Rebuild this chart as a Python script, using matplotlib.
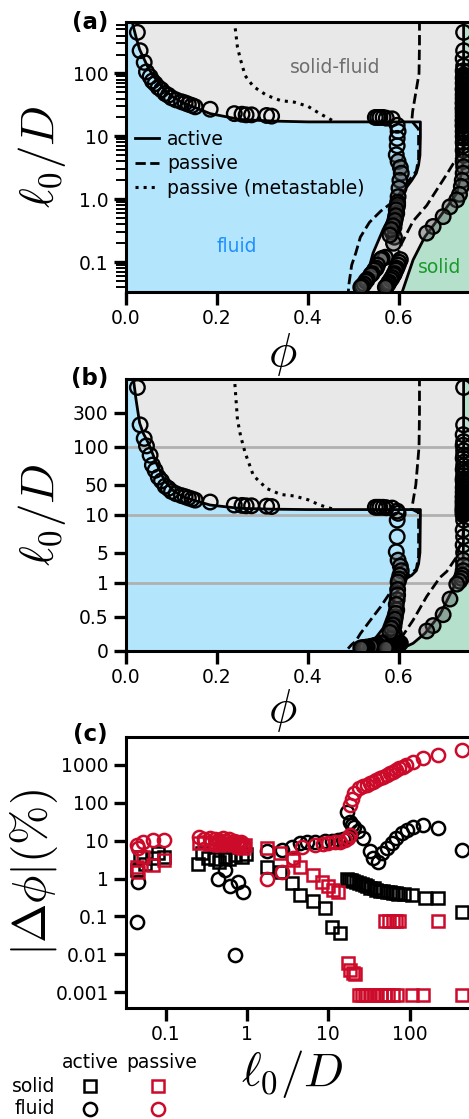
import numpy as np
import matplotlib
matplotlib.use("Agg")
import matplotlib.pyplot as plt
from matplotlib.lines import Line2D
from matplotlib.ticker import FixedLocator, FixedFormatter, LogLocator, NullLocator

plt.rcParams['font.family'] = ['DejaVu Sans']
plt.rcParams['mathtext.fontset'] = 'cm'

# ---------------- data: phase diagram (panels a, b) ----------------
# active fluid boundary (solid line, left)
act_fluid_phi = [0.013, 0.016, 0.022, 0.030, 0.038, 0.050, 0.067, 0.085, 0.104, 0.125, 0.148,
                 0.185, 0.250, 0.324, 0.400, 0.647, 0.647, 0.646, 0.643, 0.638, 0.628, 0.612,
                 0.595, 0.565, 0.543, 0.529, 0.521]
act_fluid_l = [700, 560, 380, 240, 180, 118, 78, 55, 42, 34, 29.5,
               23, 18.6, 17.5, 17.0, 17.0, 10, 5, 3.5, 2.6, 2.0, 1.4,
               0.86, 0.33, 0.14, 0.059, 0.032]
# active solid boundary (solid line, right)
act_solid_phi = [0.742, 0.742, 0.741, 0.739, 0.727, 0.690, 0.657, 0.631, 0.606]
act_solid_l = [700, 8, 4, 3.0, 1.24, 0.53, 0.255, 0.109, 0.032]
# passive fluid boundary (dashed, left)
pas_fluid_phi = [0.645, 0.645, 0.644, 0.637, 0.630, 0.628, 0.643, 0.643, 0.643, 0.638,
                 0.617, 0.590, 0.560, 0.535, 0.515, 0.505, 0.496, 0.490, 0.488]
pas_fluid_l = [700, 300, 100, 50, 25, 17.5, 13, 8, 4.5, 2.8,
               1.8, 0.95, 0.65, 0.43, 0.25, 0.14, 0.09, 0.045, 0.03]
# passive solid boundary (dashed, right)
pas_solid_phi = [0.745, 0.740, 0.724, 0.705, 0.690, 0.661, 0.631, 0.606, 0.590, 0.580, 0.576]
pas_solid_l = [10, 7, 4.2, 2.5, 1.7, 0.8, 0.45, 0.2, 0.09, 0.05, 0.03]
# passive metastable (dotted)
meta_phi = [0.238, 0.245, 0.252, 0.262, 0.280, 0.309, 0.340, 0.370, 0.400, 0.426, 0.450, 0.460]
meta_l = [700, 260, 163, 92, 62, 45, 37, 35, 30, 23, 18.5, 17]

# simulation points: fluid side
sim_f_phi = [0.025, 0.031, 0.040, 0.045, 0.053, 0.058, 0.064, 0.071, 0.078, 0.086, 0.093,
             0.100, 0.110, 0.122, 0.130, 0.137, 0.145, 0.152, 0.185, 0.238, 0.255, 0.264,
             0.276, 0.309, 0.320,
             0.548, 0.553, 0.558, 0.565, 0.572, 0.585,
             0.596, 0.598, 0.596, 0.596, 0.594, 0.598, 0.603, 0.605, 0.602, 0.600, 0.598,
             0.597, 0.596, 0.595, 0.592, 0.590, 0.589, 0.585, 0.590, 0.588, 0.570,
             0.597, 0.594, 0.593, 0.591, 0.587, 0.583, 0.580,
             0.563, 0.560, 0.553, 0.550, 0.546, 0.541, 0.538, 0.530, 0.527, 0.523, 0.519, 0.516]
sim_f_l = [450, 230, 150, 106, 89, 76, 69, 60, 55, 48, 45,
           41, 38, 35.5, 34, 32.5, 31, 29.5, 27, 23, 22.5, 22,
           22, 21.5, 21,
           20, 20, 20, 20, 19.5, 19,
           15, 12, 9.3, 7.1, 5.1, 4.0, 3.2, 2.6, 2.0, 1.5, 1.1,
           0.9, 0.75, 0.6, 0.5, 0.42, 0.36, 0.3, 0.25, 0.2, 0.12,
           0.82, 0.68, 0.55, 0.46, 0.38, 0.33, 0.27,
           0.115, 0.11, 0.09, 0.08, 0.075, 0.066, 0.063, 0.053, 0.05, 0.045, 0.042, 0.04]
# simulation points: solid side
sim_s_phi = [0.742, 0.742, 0.741, 0.742, 0.741, 0.742, 0.743, 0.741, 0.742, 0.741, 0.742,
             0.743, 0.741, 0.742, 0.741, 0.742, 0.741, 0.742, 0.743, 0.741, 0.742, 0.741,
             0.742, 0.741, 0.742, 0.741, 0.742, 0.741, 0.742, 0.741, 0.742, 0.741, 0.742,
             0.741, 0.742, 0.741, 0.739, 0.737, 0.733, 0.727, 0.712, 0.697, 0.675, 0.661,
             0.742, 0.741, 0.742, 0.743, 0.741, 0.742, 0.741, 0.742, 0.743, 0.741, 0.742,
             0.741, 0.742, 0.741, 0.742, 0.743, 0.741, 0.742, 0.741,
             0.603, 0.600, 0.598, 0.595, 0.593, 0.590, 0.588, 0.585, 0.582, 0.578, 0.576,
             0.573, 0.570]
sim_s_l = [450, 230, 172, 131, 110, 89, 80, 70, 62, 55, 49,
           44, 40, 36, 33, 30, 27, 25, 23, 21, 19, 17.5,
           16, 14.5, 13, 12, 11, 10, 9.3, 8, 7.1, 6, 5,
           4.0, 3.3, 2.6, 2.0, 1.6, 1.2, 0.98, 0.76, 0.53, 0.37, 0.29,
           95, 85, 75, 66, 58, 52, 46, 41, 38, 34.5, 31.5,
           28.5, 26, 24, 22, 20, 18.2, 16.8, 15.2,
           0.11, 0.1, 0.09, 0.08, 0.075, 0.066, 0.063, 0.057, 0.053, 0.048, 0.045,
           0.042, 0.04]

# ---------------- data: panel (c) ----------------
act_solid_x = [0.044, 0.048, 0.056, 0.070, 0.080, 0.094,
               0.25, 0.28, 0.33, 0.40, 0.45, 0.53, 0.60, 0.72, 0.88, 0.97,
               1.75, 2.55, 3.55, 4.5, 6.5, 9.1, 11, 13.9,
               16.8, 18, 19, 20, 22, 24, 26, 28, 30, 33, 36, 39, 43, 47, 52,
               57, 62, 68, 73, 85, 106, 155, 225, 437]
act_solid_y = [1.7, 3.8, 2.5, 3.45, 4.7, 3.8,
               2.5, 4.7, 3.5, 3.3, 2.8, 3.8, 3.2, 4.2, 3.8, 4.5,
               2.07, 1.53, 0.76, 0.37, 0.25, 0.166, 0.054, 0.036,
               0.95, 0.92, 0.9, 0.85, 0.8, 0.75, 0.7, 0.66, 0.62, 0.58, 0.55, 0.5,
               0.48, 0.46, 0.45, 0.43, 0.41, 0.41, 0.40, 0.38, 0.37, 0.3, 0.3, 0.135]
act_fluid_x = [0.045, 0.046, 0.44, 0.54, 0.62, 0.72, 0.78, 0.90,
               1.75, 2.67, 3.55, 4.5, 5.5, 6.9, 9.0, 11, 13, 15, 17,
               16.8, 18.5, 19.5, 21, 23, 27, 32.6, 35.5, 41, 45.5, 52, 60, 69, 80, 92,
               111, 148, 225, 437]
act_fluid_y = [0.073, 0.83, 1.0, 1.7, 0.62, 0.0098, 0.83, 0.45,
               5.2, 5.7, 7.0, 8.6, 9.2, 9.5, 9.8, 10, 10.5, 11, 12,
               58, 32, 26, 23, 18, 11.6, 5.2, 3.45, 2.8, 4.7, 6.3, 8.6, 11.6, 15.8, 19,
               23.5, 26, 21.3, 5.7]
pas_solid_x = [0.044, 0.046, 0.053, 0.070, 0.094,
               0.26, 0.30, 0.35, 0.40, 0.45, 0.50, 0.60, 0.70, 0.80, 0.90, 0.95,
               1.75, 2.55, 3.7, 4.5, 6.5, 8.3, 10, 11.5, 13.2,
               17.5, 18.5, 20, 21.5,
               50, 56, 62, 68, 75, 225,
               24, 26, 28, 30, 33, 36, 40, 45, 50, 55, 62, 70, 106, 148, 437]
pas_solid_y = [2.07, 1.53, 3.8, 2.3, 3.1,
               8.5, 9.0, 8.0, 9.0, 7.5, 8.5, 8.0, 7.5, 7.0, 6.5, 7.5,
               6.3, 4.7, 3.1, 2.07, 1.25, 0.83, 0.62, 0.5, 0.45,
               0.0059, 0.0039, 0.0032, 0.003,
               0.075, 0.075, 0.075, 0.075, 0.075, 0.075,
               0.00085, 0.00085, 0.00085, 0.00085, 0.00085, 0.00085, 0.00085, 0.00085,
               0.00085, 0.00085, 0.00085, 0.00085, 0.00085, 0.00085, 0.00085]
pas_fluid_x = [0.044, 0.046, 0.053, 0.070, 0.094,
               0.26, 0.30, 0.35, 0.40, 0.45, 0.50, 0.55, 0.60, 0.65, 0.70, 0.75, 0.80, 0.85, 0.90,
               1.75, 2.67, 3.7, 4.7, 6.9, 8.7, 10, 12, 14, 16, 17.5, 18.5,
               18.5, 19.3, 21, 24, 27, 30, 33, 35.5, 39, 43, 47, 52, 57, 63, 69, 75, 83, 91,
               110, 148, 225, 437]
pas_fluid_y = [7.7, 6.3, 9.5, 10.5, 10.5,
               12.8, 11, 12, 11, 10.5, 11.5, 10, 11, 9.5, 10, 9, 8.5, 9.5, 8,
               1.0, 1.53, 3.45, 7.0, 7.5, 8.3, 8.6, 9.0, 9.5, 10.5, 12, 14,
               88, 130, 178, 240, 270, 300, 330, 360, 400, 445, 490, 540, 600, 660, 740,
               820, 910, 1000, 1200, 1500, 1800, 2500]

# ---------------- layout ----------------
W, H = 469, 1119
fig = plt.figure(figsize=(W / 100, H / 100), dpi=100)


def rect(l, t, b, r):
    return [l / W, 1 - b / H, (r - l) / W, (b - t) / H]


ax_a = fig.add_axes(rect(126, 21.7, 291.7, 490))
ax_b = fig.add_axes(rect(126, 379, 650.7, 490))
ax_c = fig.add_axes(rect(126, 737.3, 1007.7, 490))

BLUE = '#b3e5fc'
GRAY = '#e8e8e8'
GREEN = '#b4e0cc'
RED = '#cc0a2a'
TICK_FS = 13.5
LAB_FS = 34


def style_axes(ax):
    for s in ax.spines.values():
        s.set_linewidth(2.2)
    ax.tick_params(which='major', length=9, width=2.4, labelsize=TICK_FS, pad=3.5, direction='out')
    ax.tick_params(which='minor', length=7, width=1.4, direction='out')


def draw_phase(ax):
    ax.set_facecolor(GRAY)
    top, bot = 5000, 1e-4
    fx = [0] + act_fluid_phi + [act_fluid_phi[-1], 0]
    fy = [top] + act_fluid_l + [bot, bot]
    ax.fill(fx, fy, color=BLUE, lw=0, zorder=1)
    sx = act_solid_phi + [act_solid_phi[-1], 1.0, 1.0]
    sy = act_solid_l + [bot, bot, top]
    ax.fill(sx, sy, color=GREEN, lw=0, zorder=1)
    ax.plot(act_fluid_phi, act_fluid_l, 'k-', lw=2.0, zorder=4)
    ax.plot(act_solid_phi, act_solid_l, 'k-', lw=2.0, zorder=4)
    ax.plot(pas_fluid_phi, pas_fluid_l, 'k--', lw=2.0, zorder=4)
    ax.plot(pas_solid_phi, pas_solid_l, 'k--', lw=2.0, zorder=4)
    ax.plot(meta_phi, meta_l, 'k:', lw=2.2, zorder=4)
    for ph, ll in ((sim_f_phi, sim_f_l), (sim_s_phi, sim_s_l)):
        fc = [(0.3, 0.3, 0.3, 0.4) if v < 4.5 else (0, 0, 0, 0) for v in ll]
        ax.scatter(ph, ll, s=110, facecolors=fc, edgecolors='k', linewidths=1.7, zorder=5)
    ax.set_xlim(0, 0.8)
    ax.set_xticks([0.0, 0.2, 0.4, 0.6])
    ax.set_xticklabels(['0.0', '0.2', '0.4', '0.6'])
    style_axes(ax)


# ---------- panel (a) ----------
draw_phase(ax_a)
ax_a.set_yscale('log')
ax_a.set_ylim(0.034, 665)
ax_a.yaxis.set_major_locator(FixedLocator([0.1, 1, 10, 100]))
ax_a.yaxis.set_major_formatter(FixedFormatter(['0.1', '1.0', '10', '100']))
ax_a.yaxis.set_minor_locator(LogLocator(base=10, subs=np.arange(2, 10)))
ax_a.text(0.46, 126, 'solid-fluid', color='#6e6e6e', fontsize=TICK_FS, ha='center', va='center', zorder=6)
ax_a.text(0.244, 0.175, 'fluid', color='#1e8fff', fontsize=TICK_FS, ha='center', va='center', zorder=6)
ax_a.text(0.69, 0.081, 'solid', color='#1a9a2a', fontsize=TICK_FS, ha='center', va='center', zorder=6)
handles = [Line2D([], [], color='k', ls='-', lw=2.0),
           Line2D([], [], color='k', ls='--', lw=2.0),
           Line2D([], [], color='k', ls=':', lw=2.2)]
ax_a.legend(handles, ['active', 'passive', 'passive (metastable)'], loc='upper left',
            bbox_to_anchor=(0.025, 0.60), frameon=False, fontsize=TICK_FS,
            handlelength=1.3, handletextpad=0.4, labelspacing=0.3, borderpad=0, borderaxespad=0)
ax_a.set_ylabel(r'$\ell_0/D$', fontsize=LAB_FS)
ax_a.yaxis.set_label_coords(-0.159, 0.5)
ax_a.set_xlabel(r'$\phi$', fontsize=LAB_FS)
ax_a.xaxis.set_label_coords(0.431, -0.145)
fig.text(90 / W, 1 - 22 / H, '(a)', fontsize=16.5, fontweight='bold', ha='center', va='center')

# ---------- panel (b) ----------
seg_in = [0, 1, 10, 100, 500, 5000]
seg_out = [0, 1, 2, 3, 4, 5]


def fwd(y):
    return np.interp(y, seg_in, seg_out)


def inv(y):
    return np.interp(y, seg_out, seg_in)


draw_phase(ax_b)
ax_b.set_yscale('function', functions=(fwd, inv))
ax_b.set_ylim(0, 500)
ax_b.yaxis.set_major_locator(FixedLocator([0, 0.5, 1, 5, 10, 50, 100, 300]))
ax_b.yaxis.set_major_formatter(FixedFormatter(['0', '0.5', '1', '5', '10', '50', '100', '300']))
ax_b.yaxis.set_minor_locator(NullLocator())
for yv in (1, 10, 100):
    ax_b.axhline(yv, color='#b0b0b0', lw=2.0, zorder=2)
ax_b.set_ylabel(r'$\ell_0/D$', fontsize=LAB_FS)
ax_b.yaxis.set_label_coords(-0.159, 0.5)
ax_b.set_xlabel(r'$\phi$', fontsize=LAB_FS)
ax_b.xaxis.set_label_coords(0.431, -0.135)
fig.text(90 / W, 1 - 378 / H, '(b)', fontsize=16.5, fontweight='bold', ha='center', va='center')

# ---------- panel (c) ----------
ax_c.set_xscale('log')
ax_c.set_yscale('log')
ax_c.plot(act_solid_x, act_solid_y, 's', ms=9, mfc='none', mec='k', mew=1.8, zorder=3)
ax_c.plot(act_fluid_x, act_fluid_y, 'o', ms=9.5, mfc='none', mec='k', mew=1.8, zorder=3)
ax_c.plot(pas_solid_x, pas_solid_y, 's', ms=9, mfc='none', mec=RED, mew=1.8, zorder=4)
ax_c.plot(pas_fluid_x, pas_fluid_y, 'o', ms=9.5, mfc='none', mec=RED, mew=1.8, zorder=4)
ax_c.set_xlim(0.0325, 975)
ax_c.set_ylim(0.00039, 5370)
ax_c.xaxis.set_major_locator(FixedLocator([0.1, 1, 10, 100]))
ax_c.xaxis.set_major_formatter(FixedFormatter(['0.1', '1', '10', '100']))
ax_c.yaxis.set_major_locator(FixedLocator([0.001, 0.01, 0.1, 1, 10, 100, 1000]))
ax_c.yaxis.set_major_formatter(FixedFormatter(['0.001', '0.01', '0.1', '1', '10', '100', '1000']))
ax_c.xaxis.set_minor_locator(NullLocator())
ax_c.yaxis.set_minor_locator(NullLocator())
style_axes(ax_c)
ax_c.set_ylabel(r'$|\Delta\phi|(\%)$', fontsize=LAB_FS)
ax_c.yaxis.set_label_coords(-0.181, 0.5)
ax_c.set_xlabel(r'$\ell_0/D$', fontsize=LAB_FS)
ax_c.xaxis.set_label_coords(0.456, -0.15)
fig.text(90 / W, 1 - 734 / H, '(c)', fontsize=16.5, fontweight='bold', ha='center', va='center')

# custom marker table legend below panel (c)
fig.text(90 / W, 1 - 1063 / H, 'active', fontsize=TICK_FS, ha='center', va='center')
fig.text(162 / W, 1 - 1063 / H, 'passive', fontsize=TICK_FS, ha='center', va='center')
fig.text(55 / W, 1 - 1086 / H, 'solid', fontsize=TICK_FS, ha='right', va='center')
fig.text(55 / W, 1 - 1109 / H, 'fluid', fontsize=TICK_FS, ha='right', va='center')
for mx, col in ((90, 'k'), (158, RED)):
    fig.add_artist(Line2D([mx / W], [1 - 1086 / H], marker='s', ms=9, mfc='none', mec=col, mew=1.8,
                          ls='none', transform=fig.transFigure))
    fig.add_artist(Line2D([mx / W], [1 - 1109 / H], marker='o', ms=9.5, mfc='none', mec=col, mew=1.8,
                          ls='none', transform=fig.transFigure))

fig.savefig('out.png', dpi=100)
